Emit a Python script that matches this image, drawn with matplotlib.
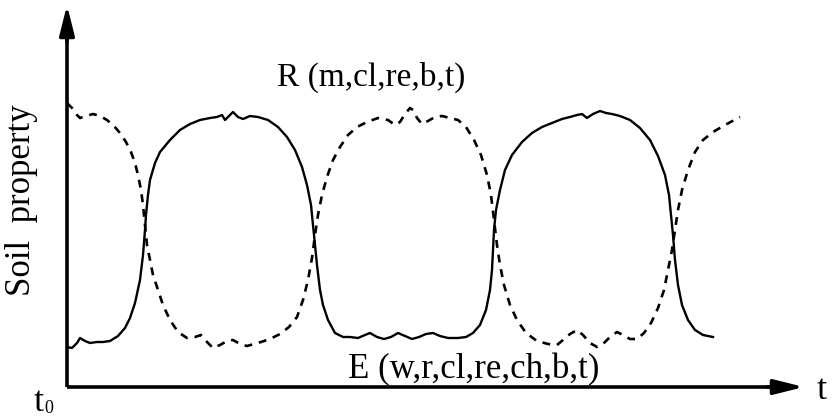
import matplotlib
matplotlib.use("Agg")
import matplotlib.pyplot as plt

plt.rcParams['font.family'] = ['Liberation Serif', 'DejaVu Serif']

# solid curve (E horizon): pairs of (time, property)
solid_pts = [(0, 40), (5, 39), (10, 44), (13, 49), (18, 46), (23, 44), (30, 45), (36, 45),
             (43, 46), (51, 51), (58, 59), (63, 69), (68, 84), (73, 107), (76, 132),
             (78, 157), (79, 172), (81, 192), (83, 207), (88, 224), (93, 235), (103, 247),
             (113, 257), (123, 263), (133, 267), (143, 269), (150, 270), (155, 272),
             (158, 267), (162, 271), (166, 275), (171, 270), (176, 268), (183, 271),
             (191, 270), (201, 267), (211, 260), (220, 250), (228, 237), (235, 220),
             (240, 202), (244, 182), (246, 162), (248, 142), (250, 122), (253, 97),
             (256, 82), (261, 67), (268, 54), (276, 50), (283, 50), (291, 49), (298, 52),
             (303, 54), (310, 50), (317, 48), (324, 50), (331, 54), (338, 51), (345, 48),
             (352, 50), (359, 53), (366, 54), (373, 51), (381, 49), (391, 49), (399, 50),
             (406, 54), (413, 62), (419, 77), (423, 97), (425, 117), (426, 137),
             (427, 157), (429, 177), (433, 197), (438, 217), (445, 232), (455, 245),
             (465, 254), (475, 260), (485, 264), (495, 268), (503, 270), (510, 272),
             (515, 273), (520, 269), (526, 273), (533, 276), (539, 274), (545, 273),
             (553, 271), (563, 267), (573, 259), (583, 247), (591, 231), (598, 212),
             (602, 192), (604, 172), (606, 152), (608, 127), (611, 102), (615, 82),
             (621, 67), (628, 57), (636, 52), (646, 50)]

# dashed curve (R horizon): pairs of (time, property)
dash_pts = [(0, 284), (5, 279), (10, 272), (13, 269), (19, 271), (26, 273), (33, 271),
            (40, 267), (47, 261), (53, 254), (59, 245), (64, 235), (68, 224), (71, 212),
            (74, 197), (76, 182), (78, 162), (80, 142), (83, 127), (86, 112), (90, 100),
            (96, 82), (103, 67), (111, 55), (120, 49), (128, 50), (134, 52), (140, 45),
            (146, 39), (153, 42), (160, 46), (166, 47), (173, 43), (180, 41), (187, 43),
            (194, 45), (203, 48), (213, 53), (222, 60), (230, 70), (236, 87), (241, 107),
            (245, 129), (248, 152), (251, 172), (255, 192), (260, 210), (266, 227),
            (273, 240), (281, 252), (290, 260), (300, 265), (311, 269), (321, 267),
            (328, 262), (333, 265), (338, 273), (343, 279), (346, 277), (350, 269),
            (355, 263), (361, 266), (368, 270), (375, 271), (383, 269), (391, 267),
            (399, 260), (407, 247), (414, 232), (420, 212), (424, 192), (427, 167),
            (430, 142), (433, 122), (437, 102), (443, 82), (450, 67), (459, 54),
            (470, 46), (481, 43), (490, 42), (496, 47), (503, 53), (510, 57), (516, 52),
            (523, 44), (530, 40), (536, 43), (543, 50), (550, 55), (556, 52), (563, 48),
            (570, 48), (577, 54), (584, 64), (591, 79), (597, 97), (601, 117), (605, 137),
            (608, 157), (611, 177), (615, 197), (621, 217), (628, 235), (636, 247),
            (646, 255), (658, 262), (673, 270)]

solid_t, solid_v = zip(*solid_pts)
dash_t, dash_v = zip(*dash_pts)

fig = plt.figure(figsize=(8.35, 4.19), dpi=100)
ax = fig.add_axes([0, 0, 1, 1])
ax.set_xlim(-67, 768)
ax.set_ylim(-32, 387)
ax.axis('off')

ax.plot(solid_t, solid_v, color='black', lw=1.7, solid_joinstyle='round')
ax.plot(dash_t, dash_v, color='black', lw=1.9, linestyle=(0, (3.0, 2.6)))

# axes with arrow heads
ax.plot([0, 0], [0, 350], color='black', lw=2.6, solid_capstyle='butt')
ax.plot([0, 708], [0, 0], color='black', lw=2.6, solid_capstyle='butt')
ax.annotate('', xy=(0, 382), xytext=(0, 345),
            arrowprops=dict(arrowstyle='-|>,head_length=1.8,head_width=0.45',
                            color='black', lw=2.6, shrinkA=0, shrinkB=0))
ax.annotate('', xy=(737, 0), xytext=(700, 0),
            arrowprops=dict(arrowstyle='-|>,head_length=1.8,head_width=0.45',
                            color='black', lw=2.6, shrinkA=0, shrinkB=0))

ax.text(-45, 187, 'Soil  property', rotation=90, ha='center', va='center', fontsize=25)
ax.text(210, 310, 'R (m,cl,re,b,t)', ha='left', va='center', fontsize=24)
ax.text(281, 17, 'E (w,r,cl,re,ch,b,t)', ha='left', va='center', fontsize=25)
ax.text(750, -3, 't', ha='left', va='center', fontsize=26)
ax.text(-33, -15, 't', ha='left', va='center', fontsize=26)
ax.text(-22.5, -21, '0', ha='left', va='center', fontsize=13)

fig.savefig('out.png', dpi=100, facecolor='white')
